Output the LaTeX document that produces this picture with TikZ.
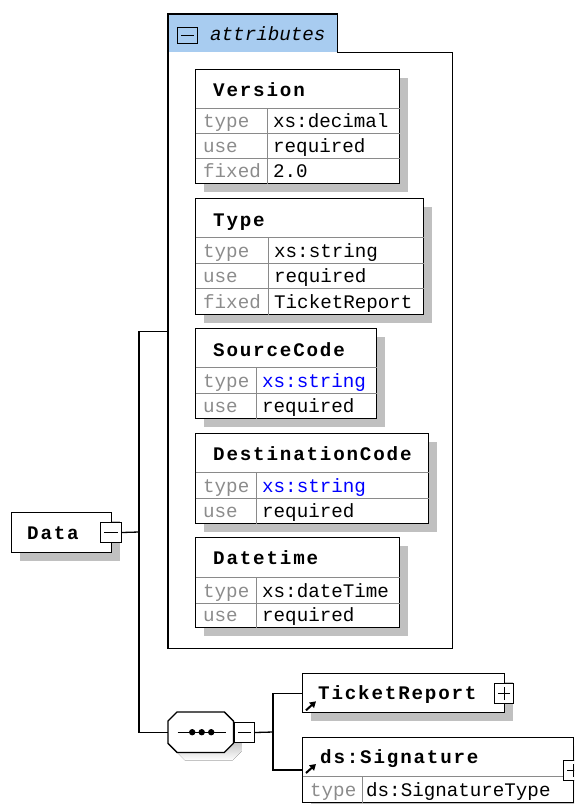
\documentclass[tikz,border=0pt]{standalone}
\usepackage{fontspec}
\usepackage{xcolor}
\usepackage{tikz}
\usetikzlibrary{positioning}
\usetikzlibrary{calc}
\usetikzlibrary{shadows}
\usetikzlibrary{arrows.meta}
\newfontfamily\cellfam{Liberation Mono}
\newfontfamily\ttlfam{Liberation Mono}[LetterSpace=9.5]
\definecolor{shade}{HTML}{C0C0C0}
\definecolor{keygray}{HTML}{8C8C8C}
\definecolor{gridgray}{HTML}{8A8A8A}
\definecolor{tabblue}{HTML}{A8CCF0}
\definecolor{typeblue}{HTML}{0000FF}

\begin{document}
\begin{tikzpicture}[
  x=1pt, y=-1pt,
  elem/.style={
    draw, line width=1.3pt, fill=white,
    anchor=north west, inner sep=0pt,
    drop shadow={shadow xshift=8pt, shadow yshift=-8pt, opacity=1, fill=shade}
  },
  grid/.style={draw=gridgray, line width=1pt, shorten <=0.7pt, shorten >=0.7pt},
  ttl/.style={anchor=base west, inner sep=0pt, font=\ttlfam\bfseries\fontsize{19.2}{22}\selectfont},
  key/.style={anchor=base west, inner sep=0pt, text=keygray, font=\cellfam\fontsize{19.2}{22}\selectfont},
  val/.style={anchor=base west, inner sep=0pt, font=\cellfam\fontsize{19.2}{22}\selectfont},
  pm/.style={draw, fill=white, line width=1pt, anchor=north west, inner sep=0pt,
    minimum width=20pt, minimum height=20pt},
  link/.style={line width=1.3pt},
  frame/.style={line width=1.3pt},
  refarrow/.style={line width=2pt, -{Triangle[length=6pt,width=7pt]}}
]
\useasboundingbox (0,0) rectangle (574,804);
\clip (0,0) rectangle (574,804);
\fill[white] (0,0) rectangle (574,804);

% --- attributes group ---
\node[anchor=north west, inner sep=0pt, minimum width=284pt, minimum height=634pt] (attrs) at (168,14) {};
\node[anchor=north west, inner sep=0pt, fill=tabblue, minimum width=169pt, minimum height=38pt] (attrtab) at (168,14) {};
\draw[frame] (attrs.north west) -- (attrtab.north east) -- (attrtab.south east)
  -- (attrtab.south -| attrs.east) -- (attrs.south east) -- (attrs.south west) -- cycle;
\node[pm, fill=tabblue, minimum height=16pt] (attrminus) at (177,27) {};
\draw[line width=1pt] ([xshift=4pt]attrminus.west) -- ([xshift=-4pt]attrminus.east);
\node[anchor=base west, inner sep=0pt, font=\cellfam\itshape\fontsize{19.2}{22}\selectfont] (attrname) at (210,40) {attributes};

% --- Version ---
\node[elem, minimum width=204pt, minimum height=114pt] (version) at (195,69) {};
\foreach \y in {108,133,158} \draw[grid] (version.west |- 0,\y) -- (version.east |- 0,\y);
\draw[grid] (267,108) -- (version.south -| 267,0);
\node[ttl] (version-name) at (213,96) {Version};
\node[key] (version-k1) at (203,127.5) {type};
\node[val] (version-v1) at (273,127.5) {xs:decimal};
\node[key] (version-k2) at (203,152.5) {use};
\node[val] (version-v2) at (273,152.5) {required};
\node[key] (version-k3) at (203,177.5) {fixed};
\node[val] (version-v3) at (273,177.5) {2.0};

% --- Type ---
\node[elem, minimum width=228pt, minimum height=116pt] (type) at (195,198) {};
\foreach \y in {237,263,288} \draw[grid] (type.west |- 0,\y) -- (type.east |- 0,\y);
\draw[grid] (268,237) -- (type.south -| 268,0);
\node[ttl] (type-name) at (213,226) {Type};
\node[key] (type-k1) at (203,257.5) {type};
\node[val] (type-v1) at (274,257.5) {xs:string};
\node[key] (type-k2) at (203,282.5) {use};
\node[val] (type-v2) at (274,282.5) {required};
\node[key] (type-k3) at (203,308.5) {fixed};
\node[val] (type-v3) at (274,308.5) {TicketReport};

% --- SourceCode ---
\node[elem, minimum width=181pt, minimum height=90pt] (source) at (195,328) {};
\foreach \y in {367,393} \draw[grid] (source.west |- 0,\y) -- (source.east |- 0,\y);
\draw[grid] (256,367) -- (source.south -| 256,0);
\node[ttl] (source-name) at (213,356) {SourceCode};
\node[key] (source-k1) at (203,387.5) {type};
\node[val, text=typeblue] (source-v1) at (262,387.5) {xs:string};
\node[key] (source-k2) at (203,412.5) {use};
\node[val] (source-v2) at (262,412.5) {required};

% --- DestinationCode ---
\node[elem, minimum width=233pt, minimum height=90pt] (dest) at (195,433) {};
\foreach \y in {472,498} \draw[grid] (dest.west |- 0,\y) -- (dest.east |- 0,\y);
\draw[grid] (256,472) -- (dest.south -| 256,0);
\node[ttl] (dest-name) at (213,460) {DestinationCode};
\node[key] (dest-k1) at (203,492.5) {type};
\node[val, text=typeblue] (dest-v1) at (262,492.5) {xs:string};
\node[key] (dest-k2) at (203,517.5) {use};
\node[val] (dest-v2) at (262,517.5) {required};

% --- Datetime ---
\node[elem, minimum width=204pt, minimum height=90pt] (datetime) at (195,537) {};
\foreach \y in {577,603} \draw[grid] (datetime.west |- 0,\y) -- (datetime.east |- 0,\y);
\draw[grid] (256,577) -- (datetime.south -| 256,0);
\node[ttl] (datetime-name) at (213,564) {Datetime};
\node[key] (datetime-k1) at (203,597.5) {type};
\node[val] (datetime-v1) at (262,597.5) {xs:dateTime};
\node[key] (datetime-k2) at (203,621.5) {use};
\node[val] (datetime-v2) at (262,621.5) {required};

% --- Data element ---
\node[elem, minimum width=100pt, minimum height=40pt] (data) at (11,512) {};
\node[ttl] (data-name) at (27,539) {Data};
\node[pm, minimum width=21pt] (dataminus) at (100,522) {};
\draw[line width=1pt] ([xshift=4pt]dataminus.west) -- ([xshift=-4pt]dataminus.east);

% --- sequence ---
\node[anchor=north west, inner sep=0pt, minimum width=65pt, minimum height=40pt] (seq) at (168,712) {};
\fill[shade, transform canvas={shift={(8pt,-8pt)}}]
  ($(seq.north west)+(9,0)$) -- ($(seq.north east)+(-9,0)$) -- ($(seq.north east)+(0,9)$)
  -- ($(seq.south east)+(0,-9)$) -- ($(seq.south east)+(-9,0)$) -- ($(seq.south west)+(9,0)$)
  -- ($(seq.south west)+(0,-9)$) -- ($(seq.north west)+(0,9)$) -- cycle;
\draw[frame, fill=white]
  ($(seq.north west)+(9,0)$) -- ($(seq.north east)+(-9,0)$) -- ($(seq.north east)+(0,9)$)
  -- ($(seq.south east)+(0,-9)$) -- ($(seq.south east)+(-9,0)$) -- ($(seq.south west)+(9,0)$)
  -- ($(seq.south west)+(0,-9)$) -- ($(seq.north west)+(0,9)$) -- cycle;
\draw[link] ($(seq.center)+(-23,0)$) -- ($(seq.center)+(25,0)$);
\foreach \dx in {-8.5,1,10.5} \fill ($(seq.center)+(\dx,0)$) circle (3.2);
\node[pm] (seqminus) at (234,722) {};
\draw[line width=1pt] ([xshift=4pt]seqminus.west) -- ([xshift=-4pt]seqminus.east);

% --- TicketReport ---
\node[elem, minimum width=202pt, minimum height=39pt] (ticket) at (302,673) {};
\node[ttl] (ticket-name) at (318,699) {TicketReport};
\node[pm, minimum width=19pt] (ticketplus) at (494,683) {};
\draw[line width=1pt] ([xshift=4pt]ticketplus.west) -- ([xshift=-4pt]ticketplus.east)
  ([yshift=4pt]ticketplus.south) -- ([yshift=-4pt]ticketplus.north);
\draw[refarrow] ($(ticket.south west)+(4,-3)$) -- ++(10,-9);

% --- ds:Signature ---
\node[elem, minimum width=271pt, minimum height=65pt] (sig) at (302,737) {};
\draw[grid] (sig.west |- 0,776) -- (sig.east |- 0,776);
\draw[grid] (362,776) -- (sig.south -| 362,0);
\node[ttl] (sig-name) at (320,763) {ds:Signature};
\node[key] (sig-k1) at (310,796) {type};
\node[val] (sig-v1) at (366,796) {ds:SignatureType};
\node[pm] (sigplus) at (563,760) {};
\draw[line width=1pt] ([xshift=4pt]sigplus.west) -- ([xshift=-4pt]sigplus.east)
  ([yshift=4pt]sigplus.south) -- ([yshift=-4pt]sigplus.north);
\draw[refarrow] ($(sig.north west)+(4,36)$) -- ++(10,-9);

% --- connectors ---
\coordinate (trunk) at (139,532);
\coordinate (branch) at (273,732);
\coordinate (sigjoin) at ($(sig.north west)+(0,33)$);
\draw[link] (dataminus.east) -- (trunk);
\draw[link] (attrs.west) -- (trunk |- attrs.west) -- (trunk |- seq.west) -- (seq.west);
\draw[link] (seqminus.east) -- (branch);
\draw[link] (ticket.west) -- (branch |- ticket.west) -- (branch |- sigjoin) -- (sigjoin);

\end{tikzpicture}
\end{document}
